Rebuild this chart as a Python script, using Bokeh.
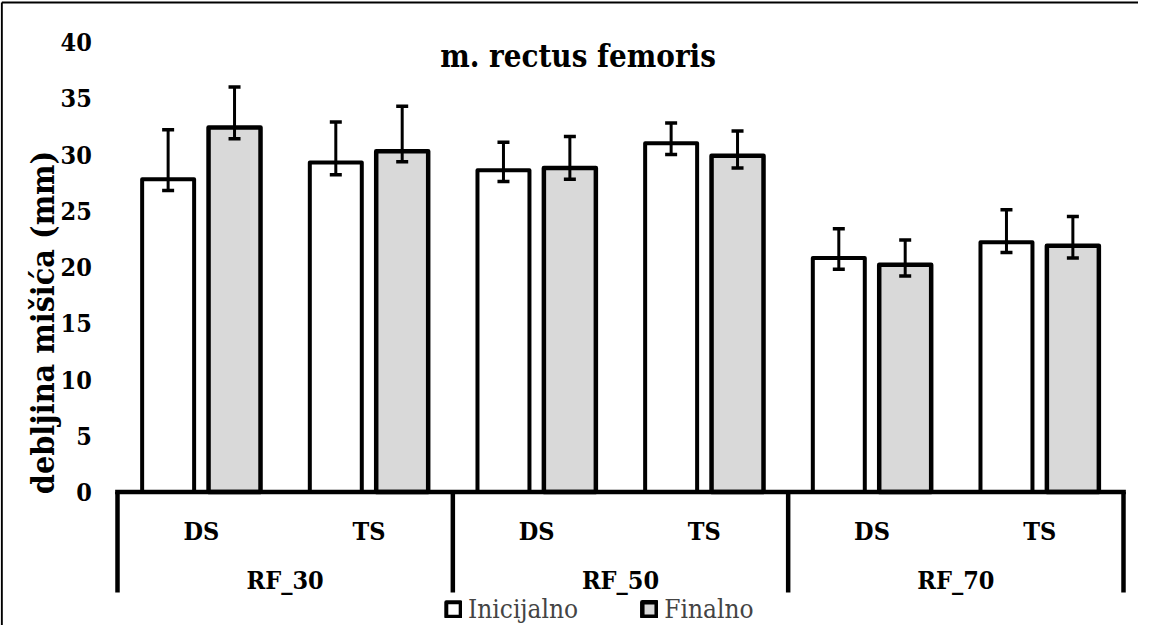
import math
from bokeh.plotting import figure
from bokeh.models import Range1d, ColumnDataSource, Whisker, TeeHead, Legend, LegendItem
from bokeh.core.properties import value
from bokeh.embed import file_html
from bokeh.resources import INLINE

# ---------------- data ----------------
title_text = "m. rectus femoris"
y_label = "debljina mišića (mm)"
groups = ["RF_30", "RF_50", "RF_70"]
subgroups = ["DS", "TS"]
series_names = ["Inicijalno", "Finalno"]
# order: RF_30 DS, RF_30 TS, RF_50 DS, RF_50 TS, RF_70 DS, RF_70 TS
inicijalno = [27.8, 29.3, 28.6, 31.0, 20.8, 22.2]
inicijalno_low = [26.8, 28.2, 27.6, 30.0, 19.8, 21.3]
inicijalno_high = [32.2, 32.9, 31.1, 32.8, 23.4, 25.1]
finalno = [32.4, 30.3, 28.8, 29.9, 20.2, 21.9]
finalno_low = [31.4, 29.35, 27.8, 28.8, 19.2, 20.8]
finalno_high = [36.0, 34.3, 31.6, 32.1, 22.4, 24.5]
y_ticks = [0, 5, 10, 15, 20, 25, 30, 35, 40]

# ---------------- layout (pixels) ----------------
W, H = 1138, 625
PX_LEFT = 117.0      # canvas x of category axis start
PX_UNIT = 1006.0 / 6 # pixels per sub-category
Y0 = 491.5           # canvas y of value 0
PY_UNIT = 11.25      # pixels per unit


def xd(px):
    return (px - PX_LEFT) / PX_UNIT


def yd(py):
    return (Y0 - py) / PY_UNIT


FONT_NAME = "DejaVu Serif Condensed"
FONT = value(FONT_NAME)

p = figure(width=W, height=H,
           x_range=Range1d(xd(0), xd(W)), y_range=Range1d(yd(H), yd(0)),
           output_backend="svg", toolbar_location=None, min_border=0,
           x_axis_location=None, y_axis_location=None)
p.grid.visible = False
p.outline_line_color = None
p.background_fill_color = "white"
p.border_fill_color = "white"

n_sub = len(subgroups)
centers = [g * n_sub + s + 0.5 for g in range(len(groups)) for s in range(n_sub)]
OFF = 0.198
BW = 0.31

src_i = ColumnDataSource(dict(x=[c - OFF for c in centers], top=inicijalno,
                              lo=inicijalno_low, hi=inicijalno_high))
src_f = ColumnDataSource(dict(x=[c + OFF for c in centers], top=finalno,
                              lo=finalno_low, hi=finalno_high))

r1 = p.vbar(x="x", top="top", bottom=0, width=BW, source=src_i,
            fill_color="white", line_color="black", line_width=4, line_join="round")
r2 = p.vbar(x="x", top="top", bottom=0, width=BW, source=src_f,
            fill_color="#d9d9d9", line_color="black", line_width=4.5, line_join="round")

for src in (src_i, src_f):
    w = Whisker(source=src, base="x", lower="lo", upper="hi", dimension="height",
                line_width=3, line_color="black", level="overlay",
                upper_head=TeeHead(size=12, line_width=3.5, line_color="black"),
                lower_head=TeeHead(size=12, line_width=3.5, line_color="black"))
    p.add_layout(w)

# category axis line and separators
n_total = len(groups) * n_sub
p.segment(x0=[0], y0=[0], x1=[n_total], y1=[0], line_color="black",
          line_width=4.7, line_cap="square")
sep_x = [g * n_sub for g in range(len(groups) + 1)]
p.segment(x0=sep_x, y0=[0] * len(sep_x), x1=sep_x, y1=[yd(592)] * len(sep_x),
          line_color="black", line_width=4.5)

# category labels
p.text(x=centers, y=[yd(530.9)] * len(centers),
       text=[subgroups[i % n_sub] for i in range(len(centers))],
       text_font=FONT, text_font_style="bold", text_font_size="25px",
       text_align="center", text_baseline="alphabetic", text_color="black")
p.text(x=[g * n_sub + n_sub / 2 for g in range(len(groups))], y=[yd(580)] * len(groups),
       text=groups, text_font=FONT, text_font_style="bold", text_font_size="25px",
       text_align="center", text_baseline="alphabetic", text_color="black")

# value tick labels
p.text(x=[xd(91.3)] * len(y_ticks), y=y_ticks, text=[str(t) for t in y_ticks],
       text_font=FONT, text_font_style="bold", text_font_size="25px",
       text_align="right", text_baseline="middle", text_color="black")

# y axis title
p.text(x=[xd(42)], y=[yd(322)], text=[y_label], angle=math.pi / 2,
       text_font=FONT, text_font_style="bold", text_font_size="32px",
       text_align="center", text_baseline="middle", text_color="black")

# chart title
p.text(x=[xd(577.5)], y=[yd(55.3)], text=[title_text],
       text_font=FONT, text_font_style="bold", text_font_size="31px",
       text_align="center", text_baseline="alphabetic", text_color="black")

# chart border (left and top visible)
p.segment(x0=[xd(1.3), xd(1.3)], y0=[yd(2), yd(2)], x1=[xd(1.3), xd(W + 5)],
          y1=[yd(H + 5), yd(2)], line_color="black", line_width=2)

legend = Legend(items=[LegendItem(label=series_names[0], renderers=[r1]),
                       LegendItem(label=series_names[1], renderers=[r2])],
                location=(444, 1), orientation="horizontal",
                border_line_color=None, background_fill_alpha=0,
                label_text_font=FONT_NAME, label_text_font_size="26px",
                glyph_width=18, glyph_height=18, label_standoff=6, spacing=62,
                padding=0, margin=0)
p.add_layout(legend)

open("out.html", "w").write(file_html(p, INLINE))
